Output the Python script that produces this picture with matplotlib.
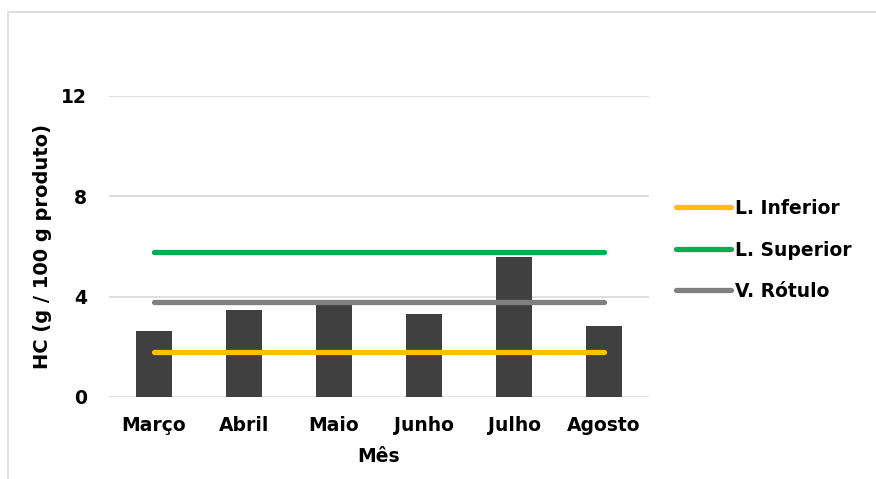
import numpy as np
import matplotlib.pyplot as plt
from matplotlib.patches import Rectangle

plt.rcParams['font.family'] = ['DejaVu Sans']
plt.rcParams['font.weight'] = 'bold'

meses = ['Março', 'Abril', 'Maio', 'Junho', 'Julho', 'Agosto']
hc = [2.63, 3.47, 3.70, 3.32, 5.59, 2.83]
l_inferior = [1.8] * 6
l_superior = [5.8] * 6
v_rotulo = [3.8] * 6

fig = plt.figure(figsize=(8.76, 4.79), dpi=100)
ax = fig.add_axes([0.1244, 0.1712, 0.6165, 0.6284])

# outer chart border
fig.patches.append(Rectangle((0.009, -0.05), 1.1, 1.025, transform=fig.transFigure,
                             fill=False, edgecolor='#d9d9d9', linewidth=1.2))

x = np.arange(len(meses))
ax.bar(x, hc, width=0.4, color='#404040', zorder=2)
ax.plot(x, l_inferior, color='#FFC000', lw=3.8, solid_capstyle='round', zorder=3, label='L. Inferior')
ax.plot(x, l_superior, color='#00B050', lw=3.8, solid_capstyle='round', zorder=3, label='L. Superior')
ax.plot(x, v_rotulo, color='#808080', lw=3.8, solid_capstyle='round', zorder=3, label='V. Rótulo')

ax.set_xlim(-0.5, 5.5)
ax.set_ylim(0, 12)
ax.set_yticks([0, 4, 8, 12])
ax.set_xticks(x)
ax.set_xticklabels(meses)
ax.yaxis.grid(True, color='#d9d9d9', lw=1.2, zorder=0)
ax.set_axisbelow(True)
for s in ax.spines.values():
    s.set_visible(False)
ax.tick_params(length=0, labelsize=13.5)
ax.tick_params(axis='x', pad=14)
ax.tick_params(axis='y', pad=16)

fig.text(0.5 * (109 + 649) / 876, 0.048, 'Mês', ha='center', va='center',
         fontsize=13.5, fontweight='bold')
fig.text(43 / 876, 0.486, 'HC (g / 100 g produto)', ha='center', va='center',
         rotation=90, fontsize=14, fontweight='bold')

ax.legend(loc='center left', bbox_to_anchor=(0.7715, 0.478), bbox_transform=fig.transFigure,
          frameon=False, fontsize=13.5, borderpad=0, borderaxespad=0,
          handlelength=2.95, handletextpad=0.2, labelspacing=1.2)

fig.savefig('out.png', dpi=100)
